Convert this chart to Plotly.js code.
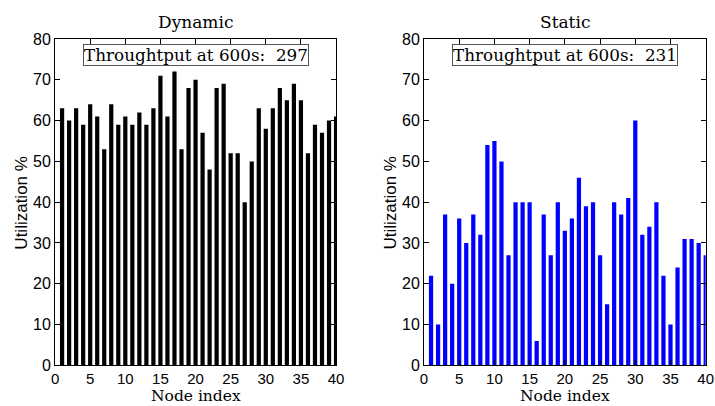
<!DOCTYPE html>
<html>
<head>
<meta charset="utf-8">
<script src="https://cdn.plot.ly/plotly-3.0.1.min.js"></script>
<style>html,body{margin:0;padding:0;background:#fff;}#chart{width:715px;height:406px;}</style>
</head>
<body>
<div id="chart"></div>
<script>
const nodes = Array.from({length: 40}, (_, i) => i + 1);
const dynamicUtil = [63,60,63,59,64,61,53,64,59,61,59,62,59,63,71,61,72,53,68,70,57,48,68,69,52,52,40,50,63,58,63,68,65,69,65,52,59,57,60,61];
const staticUtil = [22,10,37,20,36,30,37,32,54,55,50,27,40,40,40,6,37,27,40,33,36,46,39,40,27,15,40,37,41,60,32,34,40,22,10,24,31,31,30,27];
const titles = ["Dynamic", "Static"];
const throughputs = [297, 231];
const xTicks = [0,5,10,15,20,25,30,35,40];
const yTicks = [0,10,20,30,40,50,60,70,80];

const serif = "DejaVu Serif, Liberation Serif, serif";
const sans = "Liberation Sans, Arial, sans-serif";

const traces = [
  {type:'bar', x: nodes, y: dynamicUtil, marker:{color:'#000000', line:{width:0}}, width:0.6, xaxis:'x', yaxis:'y', hoverinfo:'none'},
  {type:'bar', x: nodes, y: staticUtil, marker:{color:'#0000ff', line:{width:0}}, width:0.6, xaxis:'x2', yaxis:'y2', hoverinfo:'none'}
];

function xa(domain, anchor){
  return {domain: domain, anchor: anchor, range:[0,40], tickvals: xTicks, ticks:'inside', ticklen:5, tickcolor:'#000',
    showline:true, mirror:'ticks', linecolor:'#000', linewidth:1, showgrid:false, zeroline:false,
    tickfont:{family:sans, size:15, color:'#000'}, fixedrange:true};
}
function ya(domain, anchor){
  return {domain: domain, anchor: anchor, range:[0,80], tickvals: yTicks, ticks:'inside', ticklen:5, tickcolor:'#000',
    showline:true, mirror:'ticks', linecolor:'#000', linewidth:1, showgrid:false, zeroline:false,
    tickfont:{family:sans, size:16, color:'#000'}, fixedrange:true};
}

const yDom = [0.1, 0.904];
const d1 = [0.077, 0.470];
const d2 = [0.593, 0.987];

const annotations = [];
[d1, d2].forEach((d, i) => {
  const cx = (d[0] + d[1]) / 2;
  annotations.push({xref:'paper', yref:'paper', x: cx, y: 0.945, xanchor:'center', yanchor:'middle', showarrow:false,
    text: titles[i], font:{family:serif, size:17, color:'#000'}});
  annotations.push({xref:'paper', yref:'paper', x: cx, y: 0.0, xanchor:'center', yanchor:'bottom', showarrow:false,
    text: 'Node index', font:{family:serif, size:15.5, color:'#000'}, borderpad:0});
  annotations.push({xref:'paper', yref:'paper', x: d[0] - 0.047, y: (yDom[0]+yDom[1])/2, xanchor:'center', yanchor:'middle', showarrow:false,
    textangle:-90, text: 'Utilization %', font:{family:sans, size:17, color:'#000'}});
  annotations.push({xref: i===0?'x':'x2', yref: i===0?'y':'y2', x: 20, y: 76.1, xanchor:'center', yanchor:'middle', showarrow:false,
    text: 'Throughtput at 600s:  ' + throughputs[i], font:{family:serif, size:16.8, color:'#000'},
    bordercolor:'#555', borderwidth:1, borderpad:0, bgcolor:'#fff'});
});

const layout = {
  width:715, height:406, margin:{l:0, r:0, t:0, b:0}, paper_bgcolor:'#fff', plot_bgcolor:'#fff',
  showlegend:false, bargap:0.4,
  xaxis: xa(d1, 'y'), yaxis: ya(yDom, 'x'),
  xaxis2: xa(d2, 'y2'), yaxis2: ya(yDom, 'x2'),
  annotations: annotations
};

Plotly.newPlot('chart', traces, layout, {staticPlot:true, displayModeBar:false});
</script>
</body>
</html>
